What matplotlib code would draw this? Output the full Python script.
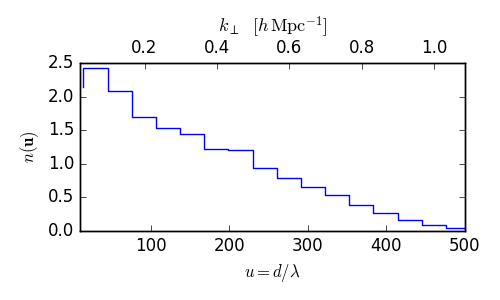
import matplotlib
matplotlib.use('Agg')
import matplotlib.pyplot as plt
import numpy as np

# bin edges in u (first point is where the line starts)
u_edges = [14.3, 45.1, 75.8, 106.6, 137.3, 168.1, 198.9, 229.6, 260.4,
           291.1, 321.9, 352.7, 383.4, 414.2, 444.9, 475.7, 506.5]
# n(u) values, first one is the starting point of the step line
n_vals = [2.14, 2.42, 2.08, 1.70, 1.54, 1.45, 1.22, 1.21, 0.94,
          0.79, 0.655, 0.53, 0.39, 0.27, 0.17, 0.085, 0.04]

u_to_k = 0.00217  # k_perp per unit u
k_ticks = [0.2, 0.4, 0.6, 0.8, 1.0]

plt.style.use('classic')
plt.rcParams['mathtext.fontset'] = 'cm'

fig = plt.figure(figsize=(5, 3), dpi=100)
ax = fig.add_axes([0.16, 0.23, 0.77, 0.56])
ax.step(u_edges, n_vals, where='pre', color='b', lw=1)
ax.set_xlim(10, 500)
ax.set_ylim(0, 2.5)
ax.set_yticks(np.arange(0, 2.51, 0.5))
ax.set_xticks([100, 200, 300, 400, 500])
ax.tick_params(axis='x', top=False)
ax.set_xlabel(r'$u = d/\lambda$')
ax.set_ylabel(r'$n(\mathbf{u})$')

ax2 = ax.twiny()
ax2.set_xlim(10 * u_to_k, 500 * u_to_k)
ax2.set_xticks(k_ticks)
ax2.tick_params(axis='x', bottom=False)
ax2.set_xlabel(r'$k_\perp\ \ [h\,\mathrm{Mpc}^{-1}]$', fontsize=13)

fig.savefig('out.png', dpi=100, facecolor='w')
